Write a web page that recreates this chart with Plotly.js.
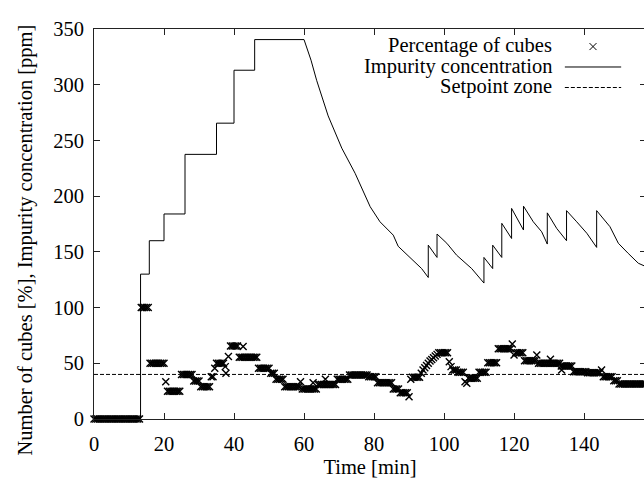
<!DOCTYPE html>
<html>
<head>
<meta charset="utf-8">
<script src="https://cdn.plot.ly/plotly-3.0.1.min.js"></script>
<style>
  html, body { margin: 0; padding: 0; overflow: hidden; background: #fff; }
  #chart { width: 650px; height: 486px; }
</style>
</head>
<body>
<div id="chart"></div>
<script>
// Percentage of cubes, sampled every half minute (stray readings are extra entries)
const cubeTime = [
  0,0.5,1,1.5,2,2.5,3,3.5,4,4.5,5,5.5,6,6.5,7,7.5,8,8.5,9,9.5,10,10.5,11,11.5,12,12.5,13,
  13.5,14,14.5,15,15.5,
  16,16.5,17,17.5,18,18.5,19,19.5,20,
  20.5,
  21,21.5,22,22.5,23,23.5,24,24.5,
  25,25.5,26,26.5,27,27.5,28,
  28.5,29,29.5,30,
  30.5,31,31.5,32,32.5,33,
  33.5,34,
  34.5,
  35,35.5,36,36.5,37,
  37.5,37.7,38.4,
  39,39.5,40,40.5,41,
  41.5,42,42.5,43,43.5,44,44.5,45,45.5,46,46.5,42.6,
  47,47.5,48,48.5,49,49.5,50,
  50.5,51,51.5,
  52,52.5,53,53.5,54,
  54.5,55,55.5,56,56.5,57,57.5,58,58.5,
  59,
  59.5,60,60.5,61,61.5,62,62.5,63,63.5,62.6,
  64,64.5,65,65.5,66,66.5,67,67.5,68,68.5,69,66.1,
  69.5,70,70.5,71,71.5,72,72.5,
  73,73.5,74,74.5,75,75.5,76,76.5,77,77.5,78,
  78.5,79,79.5,80,80.5,
  81,81.5,82,82.5,83,83.5,84,84.5,85,
  85.5,86,86.5,87,
  87.5,88,88.5,89,89.5,
  90,
  90.5,
  91,91.5,92,92.5,93,
  93.5,94,94.5,95,95.5,96,96.5,97,97.5,98,
  98.5,99,99.5,100,100.5,101,
  101.5,102,
  102.5,103,103.5,
  104,104.5,105,105.5,
  106,106.5,
  107,107.5,108,108.5,109,109.5,
  110,110.5,111,111.5,112,
  112.5,113,113.5,114,114.5,115,
  115.5,116,116.5,117,117.5,118,118.5,119,
  119.5,120,
  120.5,121,121.5,122,122.5,
  123,123.5,124,124.5,125,125.5,126,
  126.5,
  127,127.5,128,128.5,129,129.5,130,130.5,131,131.5,132,132.5,133,130.4,
  133.6,
  133.5,134,134.5,135,135.5,136,136.5,
  137,137.5,138,138.5,139,139.5,140,140.5,
  141,141.5,142,142.5,143,143.5,144,144.5,
  145,
  145.5,146,146.5,147,147.5,148,
  148.5,149,149.5,
  150,150.5,151,151.5,152,152.5,153,153.5,154,154.5,155,155.5,156,156.5,157,157.5
];
const cubePct = [
  0,0,0,0,0,0,0,0,0,0,0,0,0,0,0,0,0,0,0,0,0,0,0,0,0,0,0,
  100,100,100,100,100,
  50,50,50,50,50,50,50,50,50,
  33.5,
  25,25,25,25,25,25,25,25,
  40,40,40,40,40,40,40,
  34,34,34,34,
  29,29,29,29,29,29,
  38,38,
  45.5,
  50,50,50,50,50,
  47,41,56,
  65.5,65.5,65.5,65.5,65.5,
  55.5,55.5,55.5,55.5,55.5,55.5,55.5,55.5,55.5,55.5,55.5,65,
  45.5,45.5,45.5,45.5,45.5,45.5,45.5,
  41,41,41,
  35.6,35.6,35.6,35.6,35.6,
  29,29,29,29,29,29,29,29,29,
  33.5,
  27,27,27,27,27,27,27,27,27,32.6,
  31,31,31,31,31,31,31,31,31,31,31,35.6,
  35.6,35.6,35.6,35.6,35.6,35.6,35.6,
  39.5,39.5,39.5,39.5,39.5,39.5,39.5,39.5,39.5,39.5,39.5,
  38,38,38,38,38,
  32.6,32.6,32.6,32.6,32.6,32.6,32.6,32.6,32.6,
  27,27,27,27,
  23.6,23.6,23.6,23.6,23.6,
  20,
  35.6,
  37.4,37.4,37.4,37.4,37.4,
  41,44,46,48,50,52,53.5,55,56.5,58,
  59.5,59.5,59.5,59.5,59.5,59.5,
  51.4,47,
  44,44,44,
  42,42,42,42,
  33.5,32,
  36.5,36.5,36.5,36.5,36.5,36.5,
  42,42,42,42,42,
  50.5,50.5,50.5,50.5,50.5,50.5,
  63,63,63,63,63,63,63,63,
  67.3,57.5,
  59.5,59.5,59.5,59.5,59.5,
  52.3,52.3,52.3,52.3,52.3,52.3,52.3,
  57.5,
  50,50,50,50,50,50,50,50,50,50,50,50,50,53.6,
  44,
  47.6,47.6,47.6,47.6,47.6,47.6,47.6,
  42.5,42.5,42.5,42.5,42.5,42.5,42.5,42.5,
  41.6,41.6,41.6,41.6,41.6,41.6,41.6,41.6,
  44,
  38,38,38,38,38,38,
  34.4,34.4,34.4,
  31.4,31.4,31.4,31.4,31.4,31.4,31.4,31.4,31.4,31.4,31.4,31.4,31.4,31.4,31.4,31.4
];

// Impurity concentration [ppm]; repeated times are the step changes
const impTime = [
  0,13.3,13.3,15.8,15.8,20,20,26,26,35,35,40,40,45.9,45.9,60,
  62,63.6,66.9,70.8,74.6,78.9,81.7,85.5,86.9,90.3,93.6,95.5,
  95.5,98,98,100.8,103.6,107.9,111.4,
  111.4,113.9,113.9,116.5,116.5,119.3,119.3,122.7,122.7,125.5,127.9,129.5,
  129.5,132.2,135,135,137.9,140.8,143.6,143.6,147.4,149.8,152.6,155.5,157.5
];
const impPpm = [
  0,0,130,130,160,160,184,184,237.5,237.5,265.5,265.5,313,313,340.5,340.5,
  322,304,272,243,220.5,190.5,177,165,155,144.5,135,127,
  156,145,166,157.7,147,135,122,
  145,135,156,145,175.6,162,189,169.6,191,177,168,157,
  185,171,160,187,177,166.7,154,187,172.6,157.7,148.7,139.8,137
];

// Setpoint zone level
const setpointLevel = 40;
const timeSpan = [0, 157.7];

const legendLabels = ['Percentage of cubes', 'Impurity concentration', 'Setpoint zone'];
const xTickVals = [0, 20, 40, 60, 80, 100, 120, 140];
const yTickVals = [0, 50, 100, 150, 200, 250, 300, 350];

const FONT = 'Liberation Serif';
const FS = 20.5;
const ink = '#000';

const cubeMarker = { symbol: 'x-thin-open', size: 7, color: ink, line: { width: 1.4, color: ink } };

const traces = [
  {
    x: cubeTime, y: cubePct, type: 'scatter', mode: 'markers',
    marker: cubeMarker, cliponaxis: false, showlegend: false, hoverinfo: 'skip'
  },
  {
    x: impTime, y: impPpm, type: 'scatter', mode: 'lines',
    line: { color: ink, width: 1 }, showlegend: false, hoverinfo: 'skip'
  },
  {
    x: timeSpan, y: [setpointLevel, setpointLevel], type: 'scatter', mode: 'lines',
    line: { color: ink, width: 1, dash: '4px,2px' }, showlegend: false, hoverinfo: 'skip'
  },
  // key marker for the hand-built legend
  {
    x: [0.904], y: [0.955], xaxis: 'x2', yaxis: 'y2', type: 'scatter', mode: 'markers',
    marker: { symbol: 'x-thin-open', size: 7, color: ink, line: { width: 1, color: ink } },
    cliponaxis: false, showlegend: false, hoverinfo: 'skip'
  }
];

const legendRowsY = [0.955, 0.9026, 0.85];
const annotations = legendLabels.map((t, i) => ({
  text: t, xref: 'paper', yref: 'paper', x: 0.834, y: legendRowsY[i] + 0.002,
  xanchor: 'right', yanchor: 'middle', showarrow: false,
  font: { family: FONT, size: FS, color: ink }
}));
annotations.push({
  text: 'Number of cubes [%], Impurity concentration [ppm]',
  xref: 'paper', yref: 'paper', x: -0.124, y: 0.459, textangle: -90,
  xanchor: 'center', yanchor: 'middle', showarrow: false,
  font: { family: FONT, size: FS, color: ink }
});

const shapes = [
  { type: 'line', xref: 'paper', yref: 'paper', x0: 0.853, x1: 0.955, y0: legendRowsY[1], y1: legendRowsY[1],
    line: { color: ink, width: 1 } },
  { type: 'line', xref: 'paper', yref: 'paper', x0: 0.853, x1: 0.955, y0: legendRowsY[2], y1: legendRowsY[2],
    line: { color: ink, width: 1, dash: '4px,2px' } }
];

const axisCommon = {
  showgrid: false, zeroline: false, showline: true, linecolor: '#222', linewidth: 1,
  mirror: 'ticks', ticks: 'inside', ticklen: 6, tickwidth: 1, tickcolor: '#222',
  tickfont: { family: FONT, size: FS, color: ink }
};

const layout = {
  width: 650, height: 486,
  margin: { l: 94, r: 4, t: 29, b: 67 },
  paper_bgcolor: '#fff', plot_bgcolor: '#fff',
  font: { family: FONT, size: FS, color: ink },
  xaxis: Object.assign({}, axisCommon, {
    range: timeSpan, tickvals: xTickVals, ticklabelstandoff: 6,
    title: { text: 'Time [min]', font: { family: FONT, size: FS, color: ink }, standoff: 6 }
  }),
  yaxis: Object.assign({}, axisCommon, {
    range: [0, 350], tickvals: yTickVals, ticklabelstandoff: 5
  }),
  xaxis2: { overlaying: 'x', range: [0, 1], visible: false, fixedrange: true },
  yaxis2: { overlaying: 'y', range: [0, 1], visible: false, fixedrange: true },
  annotations: annotations,
  shapes: shapes,
  showlegend: false
};

Plotly.newPlot('chart', traces, layout, { staticPlot: true, displayModeBar: false });
</script>
</body>
</html>
